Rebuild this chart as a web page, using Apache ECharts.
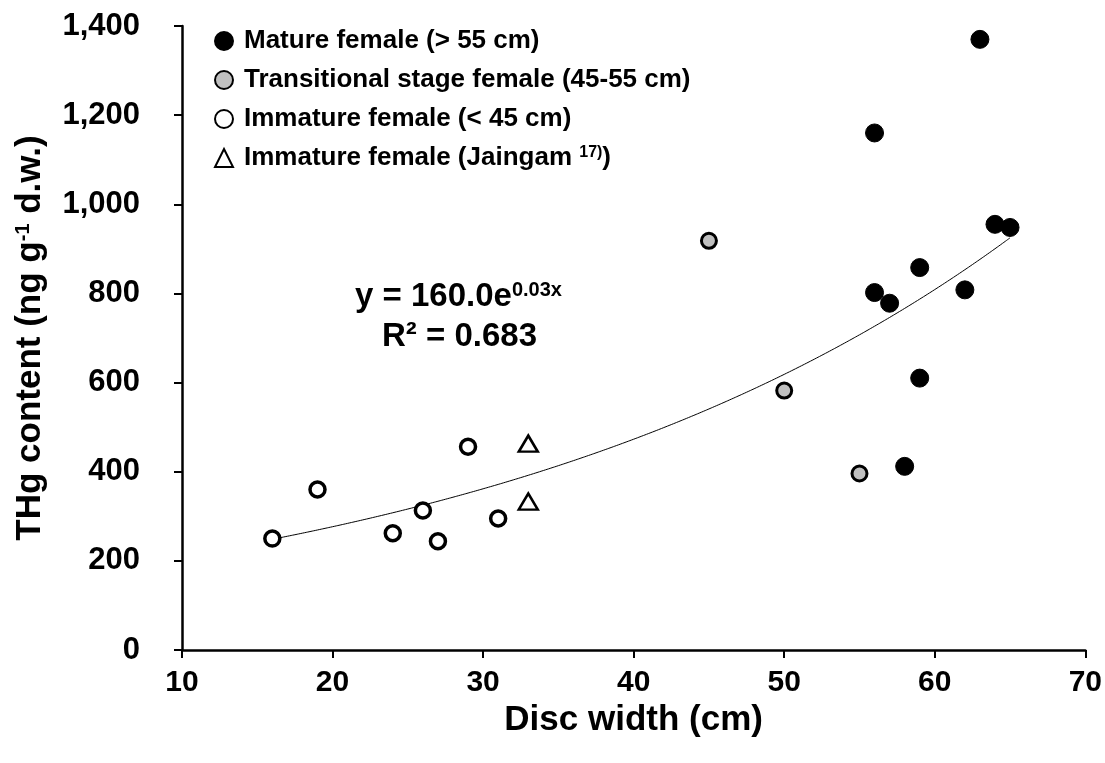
<!DOCTYPE html>
<html>
<head>
<meta charset="utf-8">
<script src="https://cdn.jsdelivr.net/npm/echarts@6/dist/echarts.min.js"></script>
<style>
  html, body { margin: 0; padding: 0; background: #fff; }
  #chart { width: 1105px; height: 763px; }
</style>
</head>
<body>
<div id="chart"></div>
<script>
// disc width (cm), THg (ng/g d.w.)
const matureX = [56, 56, 57, 58, 59, 59, 62, 63, 64, 65];
const matureY = [1160, 802, 778, 412, 858, 610, 808, 1370, 955, 948];
const transX = [45, 50, 55];
const transY = [918, 582, 396];
const immatureX = [16, 19, 24, 26, 27, 29, 31];
const immatureY = [250, 360, 262, 313, 244, 456, 295];
const jaingamX = [33, 33];
const jaingamY = [463, 333];

const xTicks = [10, 20, 30, 40, 50, 60, 70];
const yTicks = [0, 200, 400, 600, 800, 1000, 1200, 1400];

function pairs(xs, ys) {
    return xs.map((x, i) => [x, ys[i]]);
}

// exponential fit (least squares on ln y) over every point, like the spreadsheet trendline
function expFit() {
    const xs = [].concat(matureX, transX, immatureX, jaingamX);
    const ys = [].concat(matureY, transY, immatureY, jaingamY);
    const n = xs.length;
    let sx = 0, sy = 0, sxx = 0, sxy = 0;
    for (let i = 0; i < n; i++) {
        const ly = Math.log(ys[i]);
        sx += xs[i]; sy += ly; sxx += xs[i] * xs[i]; sxy += xs[i] * ly;
    }
    const b = (n * sxy - sx * sy) / (n * sxx - sx * sx);
    const a = Math.exp((sy - b * sx) / n);
    return { a: a, b: b };
}

const fit = expFit();
const trend = [];
for (let x = 16; x <= 65; x += 0.5) {
    trend.push([x, fit.a * Math.exp(fit.b * x)]);
}

const chart = echarts.init(document.getElementById("chart"));
const fontBold = "Liberation Sans";

chart.setOption({
    animation: false,
    backgroundColor: "#fff",
    grid: {
        left: 182,
        right: 17,
        top: 26,
        bottom: 113
    },
    legend: {
        orient: "vertical",
        left: 209,
        top: 23,
        itemWidth: 18,
        itemHeight: 18,
        itemGap: 13,
        data: ["mature", "trans", "immature", "jaingam"],
        textStyle: {
            fontFamily: fontBold,
            fontWeight: "bold",
            fontSize: 26,
            lineHeight: 26,
            color: "#000",
            padding: [0, 0, 0, 6],
            rich: {
                sup: {
                    fontFamily: fontBold,
                    fontWeight: "bold",
                    fontSize: 16,
                    verticalAlign: "top",
                    padding: [0, 0, 12, 0]
                },
                t: {
                    fontFamily: fontBold,
                    fontWeight: "bold",
                    fontSize: 26
                }
            }
        },
        formatter: function (name) {
            if (name === "mature") return "Mature female (> 55 cm)";
            if (name === "trans") return "Transitional stage female (45-55 cm)";
            if (name === "immature") return "Immature female (< 45 cm)";
            return "{t|Immature female (Jaingam }{sup|17)}{t|)}";
        }
    },
    xAxis: {
        type: "value",
        min: 10,
        max: 70,
        interval: 10,
        name: "Disc width (cm)",
        nameLocation: "middle",
        nameGap: 52,
        nameTextStyle: {
            fontFamily: fontBold,
            fontWeight: "bold",
            fontSize: 35,
            color: "#000",
            verticalAlign: "top"
        },
        axisLine: { show: true, lineStyle: { color: "#000", width: 2.5 } },
        axisTick: { show: true, inside: false, length: 8, lineStyle: { color: "#000", width: 2 } },
        axisLabel: {
            margin: 18,
            fontFamily: fontBold,
            fontWeight: "bold",
            fontSize: 30,
            color: "#000",
            formatter: function (v) { return xTicks.indexOf(v) >= 0 ? String(v) : ""; }
        },
        splitLine: { show: false }
    },
    yAxis: {
        type: "value",
        min: 0,
        max: 1400,
        interval: 200,
        name: "{t|THg content (ng g}{sup|-1}{t| d.w.)}",
        nameLocation: "middle",
        nameGap: 134,
        nameTextStyle: {
            color: "#000",
            rich: {
                t: { fontFamily: fontBold, fontWeight: "bold", fontSize: 35, color: "#000" },
                sup: { fontFamily: fontBold, fontWeight: "bold", fontSize: 20, color: "#000", verticalAlign: "top", padding: [0, 0, 15, 0] }
            }
        },
        axisLine: { show: true, lineStyle: { color: "#000", width: 2.5 } },
        axisTick: { show: true, inside: false, length: 8, lineStyle: { color: "#000", width: 2 } },
        axisLabel: {
            margin: 42,
            fontFamily: fontBold,
            fontWeight: "bold",
            fontSize: 31,
            color: "#000",
            formatter: function (v) {
                return yTicks.indexOf(v) >= 0 ? v.toLocaleString("en-US") : "";
            }
        },
        splitLine: { show: false }
    },
    series: [
        {
            name: "trend",
            type: "line",
            data: trend,
            showSymbol: false,
            smooth: true,
            lineStyle: { color: "#000", width: 1 },
            z: 1,
            silent: true
        },
        {
            name: "mature",
            type: "scatter",
            data: pairs(matureX, matureY),
            symbol: "circle",
            symbolSize: 18,
            itemStyle: { color: "#000", borderColor: "#000", borderWidth: 1, opacity: 1 },
            z: 3
        },
        {
            name: "trans",
            type: "scatter",
            data: pairs(transX, transY),
            symbol: "circle",
            symbolSize: 15,
            itemStyle: { color: "#c0c0c0", borderColor: "#000", borderWidth: 3, opacity: 1 },
            z: 3
        },
        {
            name: "immature",
            type: "scatter",
            data: pairs(immatureX, immatureY),
            symbol: "circle",
            symbolSize: 15,
            itemStyle: { color: "#fff", borderColor: "#000", borderWidth: 3.5, opacity: 1 },
            z: 3
        },
        {
            name: "jaingam",
            type: "scatter",
            data: pairs(jaingamX, jaingamY),
            symbol: "triangle",
            symbolSize: [19, 16],
            itemStyle: { color: "#fff", borderColor: "#000", borderWidth: 2.5, opacity: 1 },
            z: 3
        }
    ],
    graphic: [
        {
            type: "text",
            left: 355,
            top: 280,
            style: {
                text: "{t|y = 160.0e}{sup|0.03x}",
                rich: {
                    t: { fontFamily: fontBold, fontWeight: "bold", fontSize: 33, fill: "#000" },
                    sup: { fontFamily: fontBold, fontWeight: "bold", fontSize: 20, fill: "#000", verticalAlign: "top", padding: [0, 0, 14, 0] }
                }
            }
        },
        {
            type: "text",
            left: 382,
            top: 320,
            style: {
                text: "R\u00b2 = 0.683",
                fontFamily: fontBold,
                fontWeight: "bold",
                fontSize: 33,
                fill: "#000"
            }
        }
    ]
});
</script>
</body>
</html>
